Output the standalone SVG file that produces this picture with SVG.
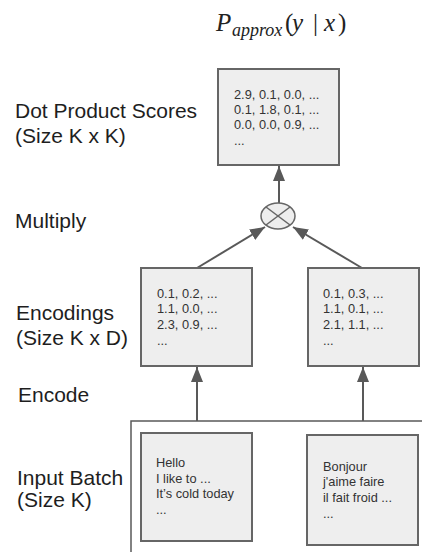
<svg xmlns="http://www.w3.org/2000/svg" width="422" height="552" viewBox="0 0 422 552">
<defs>
<style>
.box{fill:#eeeeee;stroke:#666666;stroke-width:2}
.lbl{font-family:"Liberation Sans",Arial,sans-serif;font-size:21px;fill:#1e1e1e}
.cell{font-family:"Liberation Sans",Arial,sans-serif;font-size:12.8px;fill:#333333}
.conn{stroke:#595959;stroke-width:2;fill:none}
.math{font-family:"Liberation Serif","Times New Roman",serif;fill:#222222;font-size:25px}
.it{font-style:italic}
</style>
<marker id="ah" markerUnits="userSpaceOnUse" markerWidth="15" markerHeight="12" refX="15" refY="6" orient="auto">
<path d="M0,0 L15,6 L0,12 Z" fill="#595959"/>
</marker>
</defs>
<rect width="422" height="552" fill="#ffffff"/>

<g id="title">
<text class="math it" x="216" y="31">P</text>
<text class="math it" x="232" y="36" style="font-size:18px">approx</text>
<text class="math" x="285" y="31">(</text>
<text class="math it" x="292" y="31">y</text>
<text class="math" x="313" y="31">|</text>
<text class="math it" x="324" y="31">x</text>
<text class="math" x="338" y="31">)</text>
</g>

<g id="labels">
<text class="lbl" x="15" y="118">Dot Product Scores</text>
<text class="lbl" x="15" y="143">(Size K x K)</text>
<text class="lbl" x="15" y="228">Multiply</text>
<text class="lbl" x="16" y="320">Encodings</text>
<text class="lbl" x="16" y="345">(Size K x D)</text>
<text class="lbl" x="18" y="402">Encode</text>
<text class="lbl" x="17" y="485">Input Batch</text>
<text class="lbl" x="17" y="507">(Size K)</text>
</g>

<g id="connectors">
<line class="conn" x1="279" y1="203" x2="279" y2="166" marker-end="url(#ah)"/>
<line class="conn" x1="197" y1="268" x2="265" y2="227" marker-end="url(#ah)"/>
<line class="conn" x1="362" y1="268" x2="293" y2="227" marker-end="url(#ah)"/>
<line class="conn" x1="197" y1="421" x2="197" y2="367" marker-end="url(#ah)"/>
<line class="conn" x1="363" y1="421" x2="363" y2="367" marker-end="url(#ah)"/>
</g>

<g id="batch-container">
<path d="M131,552 V421 H422" fill="none" stroke="#595959" stroke-width="1.5"/>
</g>

<g id="scores">
<rect class="box" x="218" y="69" width="121" height="96"/>
<text class="cell" x="234" y="99">2.9, 0.1, 0.0, ...</text>
<text class="cell" x="234" y="114">0.1, 1.8, 0.1, ...</text>
<text class="cell" x="234" y="129">0.0, 0.0, 0.9, ...</text>
<text class="cell" x="234" y="145">...</text>
</g>

<g id="multiply">
<ellipse cx="278" cy="216" rx="17" ry="13" fill="#eeeeee" stroke="#666666" stroke-width="1.5"/>
<line x1="266" y1="207" x2="290" y2="225" stroke="#666666" stroke-width="1.5"/>
<line x1="290" y1="207" x2="266" y2="225" stroke="#666666" stroke-width="1.5"/>
</g>

<g id="enc-left">
<rect class="box" x="141" y="268" width="111" height="98"/>
<text class="cell" x="157" y="298">0.1, 0.2, ...</text>
<text class="cell" x="157" y="313">1.1, 0.0, ...</text>
<text class="cell" x="157" y="329">2.3, 0.9, ...</text>
<text class="cell" x="157" y="345">...</text>
</g>

<g id="enc-right">
<rect class="box" x="308" y="268" width="111" height="98"/>
<text class="cell" x="323" y="298">0.1, 0.3, ...</text>
<text class="cell" x="323" y="313">1.1, 0.1, ...</text>
<text class="cell" x="323" y="329">2.1, 1.1, ...</text>
<text class="cell" x="323" y="345">...</text>
</g>

<g id="input-en">
<rect class="box" x="141" y="433" width="111" height="108"/>
<text class="cell" x="156" y="467">Hello</text>
<text class="cell" x="156" y="483">I like to ...</text>
<text class="cell" x="156" y="498">It’s cold today</text>
<text class="cell" x="156" y="514">...</text>
</g>

<g id="input-fr">
<rect class="box" x="307" y="435" width="111" height="110"/>
<text class="cell" x="323" y="471">Bonjour</text>
<text class="cell" x="323" y="486">j'aime faire</text>
<text class="cell" x="323" y="502">il fait froid ...</text>
<text class="cell" x="323" y="518">...</text>
</g>
</svg>
